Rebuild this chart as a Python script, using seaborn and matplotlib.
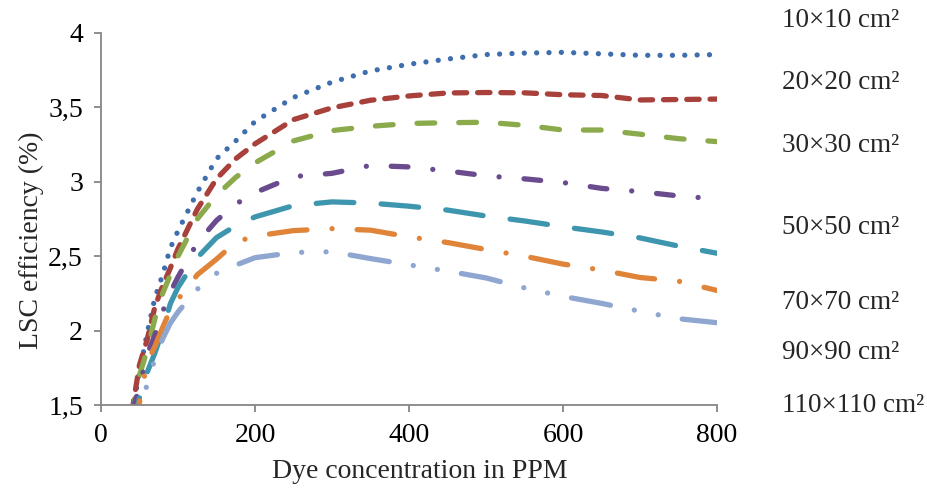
import matplotlib
matplotlib.use("Agg")
import matplotlib.pyplot as plt
import seaborn as sns
import pandas as pd

# ---- data ----
conc = [40, 50, 60, 70, 80, 90, 100, 125, 150, 175, 200, 250, 300, 350,
        400, 450, 500, 550, 600, 650, 700, 750, 800]
sizes = ["10×10 cm²", "20×20 cm²", "30×30 cm²", "50×50 cm²",
         "70×70 cm²", "90×90 cm²", "110×110 cm²"]
eff_10 = [1.45, 1.72, 1.985, 2.22, 2.375, 2.555, 2.67, 2.93, 3.155, 3.275, 3.405, 3.567, 3.67, 3.745,
          3.79, 3.825, 3.855, 3.865, 3.87, 3.86, 3.85, 3.85, 3.855]
eff_20 = [1.45, 1.77, 1.94, 2.16, 2.30, 2.42, 2.55, 2.815, 3.02, 3.155, 3.255, 3.418, 3.497, 3.548,
          3.577, 3.597, 3.60, 3.598, 3.585, 3.58, 3.55, 3.553, 3.556]
eff_30 = [1.43, 1.70, 1.87, 2.08, 2.25, 2.374, 2.50, 2.75, 2.91, 3.03, 3.127, 3.275, 3.344, 3.373,
          3.392, 3.397, 3.40, 3.38, 3.348, 3.348, 3.32, 3.29, 3.27]
eff_50 = [1.45, 1.62, 1.84, 1.97, 2.127, 2.257, 2.36, 2.59, 2.74, 2.85, 2.927, 3.035, 3.057, 3.11,
          3.10, 3.073, 3.04, 3.02, 2.995, 2.956, 2.934, 2.905, 2.885]
eff_70 = [1.30, 1.55, 1.72, 1.85, 2.0, 2.18, 2.29, 2.49, 2.625, 2.705, 2.764, 2.84, 2.865, 2.857,
          2.836, 2.81, 2.77, 2.737, 2.698, 2.663, 2.623, 2.568, 2.52]
eff_90 = [1.28, 1.52, 1.79, 1.894, 2.02, 2.14, 2.21, 2.375, 2.48, 2.595, 2.635, 2.672, 2.685, 2.675,
          2.63, 2.592, 2.545, 2.50, 2.447, 2.407, 2.357, 2.332, 2.27]
eff_110 = [1.20, 1.46, 1.64, 1.81, 1.944, 2.05, 2.125, 2.278, 2.385, 2.44, 2.49, 2.525, 2.53, 2.484,
           2.442, 2.40, 2.354, 2.287, 2.23, 2.183, 2.13, 2.08, 2.053]
series = [eff_10, eff_20, eff_30, eff_50, eff_70, eff_90, eff_110]
x_ticks = [0, 200, 400, 600, 800]
y_ticks = [1.5, 2, 2.5, 3, 3.5, 4]
y_ticklabels = ["1,5", "2", "2,5", "3", "3,5", "4"]

# ---- styles ----
colors = ["#3F6EAE", "#A8403C", "#8AAA4B", "#6A4C8E", "#3E96AE", "#E0843A", "#8FA7D0"]
dash_patterns = [
    (0.01, 2.33),
    (2.35, 2.06),
    (3.36, 4.54),
    (3.17, 4.73, 0.01, 4.73),
    (7.14, 5.17),
    (7.14, 4.76, 0.01, 4.76),
    (7.52, 4.61, 0.01, 4.61, 0.01, 4.61),
]
label_y = [4.087, 3.664, 3.247, 2.69, 2.186, 1.85, 1.5]

sns.set_style("white")
plt.rcParams["font.family"] = ["Liberation Serif", "DejaVu Serif"]

fig = plt.figure(figsize=(9.27, 4.9), dpi=100)
ax = fig.add_axes([101 / 927, 1 - 405 / 490, 616 / 927, 372 / 490])

rows = []
for name, vals in zip(sizes, series):
    for xv, yv in zip(conc, vals):
        rows.append({"conc": xv, "eff": yv, "size": name})
df = pd.DataFrame(rows)

for name, col, dp in zip(sizes, colors, dash_patterns):
    sub = df[df["size"] == name]
    sns.lineplot(data=sub, x="conc", y="eff", ax=ax, color=col, linewidth=3.8,
                 estimator=None, sort=False, legend=False)
    ln = ax.lines[-1]
    ln.set_linewidth(3.8)
    ln.set_dashes(dp)
    ln.set_dash_capstyle("round")
    ln.set_solid_capstyle("round")

ax.set_xlim(0, 800)
ax.set_ylim(1.5, 4)
ax.set_xticks(x_ticks)
ax.set_xticklabels([str(t) for t in x_ticks])
ax.set_yticks(y_ticks)
ax.set_yticklabels(y_ticklabels)

for s in ["top", "right"]:
    ax.spines[s].set_visible(False)
for s in ["left", "bottom"]:
    ax.spines[s].set_color("#868686")
    ax.spines[s].set_linewidth(1.3)

ax.tick_params(axis="both", which="major", direction="out", length=5, width=1.3,
               color="#868686", labelsize=20, labelcolor="black", pad=8,
               left=True, bottom=True)

ax.set_xlabel("Dye concentration in PPM", fontsize=20)
ax.set_ylabel("LSC efficiency (%)", fontsize=20)
ax.xaxis.set_label_coords(0.518, -0.145)
ax.yaxis.set_label_coords(-0.093, 0.444)

for name, yl in zip(sizes, label_y):
    ax.text(884, yl, name, fontsize=19.5, va="center", ha="left", clip_on=False)

fig.savefig("out.png", dpi=100)
